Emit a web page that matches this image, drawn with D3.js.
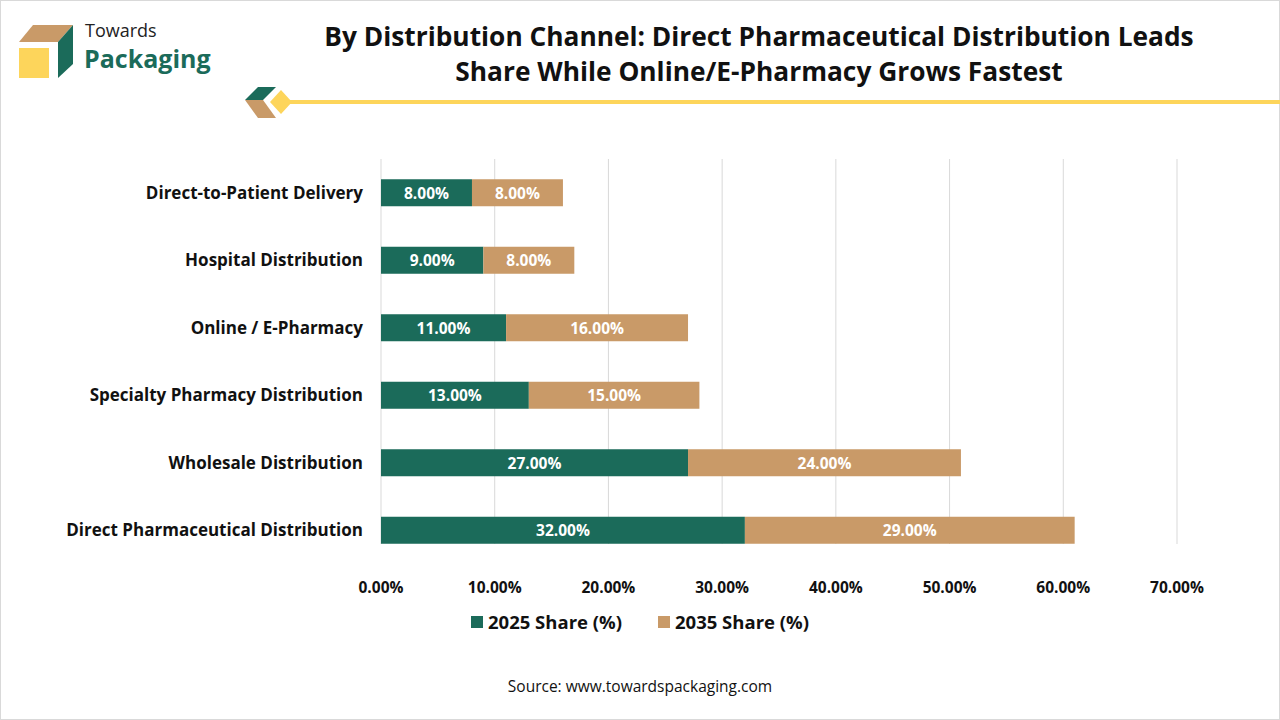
<!DOCTYPE html>
<html><head><meta charset="utf-8">
<script src="https://cdn.jsdelivr.net/npm/d3@7"></script>
<style>body{margin:0;background:#fff}svg{display:block;font-family:"Open Sans",sans-serif}</style>
</head><body><svg id="c" width="1280" height="720"></svg>
<script>
const categories = ["Direct-to-Patient Delivery","Hospital Distribution","Online / E-Pharmacy","Specialty Pharmacy Distribution","Wholesale Distribution","Direct Pharmaceutical Distribution"];
const share2025 = [8,9,11,13,27,32];
const share2035 = [8,8,16,15,24,29];
const seriesNames = ["2025 Share (%)","2035 Share (%)"];
const xTicks = [0,10,20,30,40,50,60,70];
const colors = ["#1b6b5a","#c99a68"];

const svg = d3.select("#c");
svg.append("rect").attr("x",0.5).attr("y",0.5).attr("width",1279).attr("height",719).attr("fill","#fff").attr("stroke","#d9d9d9");

const g0 = svg.append("g");
g0.append("polygon").attr("points","19,42 33,25 73,25 58,42").attr("fill","#c99a68");
g0.append("rect").attr("x",19).attr("y",48).attr("width",30).attr("height",30).attr("fill","#fdd55b");
g0.append("polygon").attr("points","58,42 73,25 73,64 58,78").attr("fill","#1b6b5a");
g0.append("text").attr("x",85).attr("y",37).attr("font-size",18).attr("fill","#222").text("Towards");
g0.append("text").attr("x",84).attr("y",68).attr("font-size",25).attr("font-weight",700).attr("fill","#1b6b5a").text("Packaging");
g0.append("polygon").attr("points","245,100 258,87 276,87 263,100").attr("fill","#1b6b5a");
g0.append("polygon").attr("points","245,100 263,100 276,118 258,118").attr("fill","#c99a68");
g0.append("polygon").attr("points","270,102 281,90 292,102 281,114").attr("fill","#fdd55b");
g0.append("line").attr("x1",290).attr("x2",1280).attr("y1",102).attr("y2",102).attr("stroke","#fdd55b").attr("stroke-width",4);

svg.append("text").attr("x",759).attr("y",46).attr("text-anchor","middle").attr("font-size",26.3).attr("font-weight",700).attr("fill","#111").text("By Distribution Channel: Direct Pharmaceutical Distribution Leads");
svg.append("text").attr("x",759).attr("y",81).attr("text-anchor","middle").attr("font-size",26.3).attr("font-weight",700).attr("fill","#111").text("Share While Online/E-Pharmacy Grows Fastest");

const x = d3.scaleLinear().domain([0,70]).range([381,1177]);
const y = d3.scaleBand().domain(categories).range([159,564]).paddingInner(0.6).paddingOuter(0.3);

const grid = svg.append("g");
xTicks.forEach(t=>{
  grid.append("line").attr("x1",x(t)).attr("x2",x(t)).attr("y1",159).attr("y2",544).attr("stroke","#d9d9d9");
  svg.append("text").attr("x",x(t)).attr("y",593).attr("text-anchor","middle").attr("font-size",15.5).attr("font-weight",700).attr("fill","#111").text(t.toFixed(2)+"%");
});

categories.forEach((c,i)=>{
  const by = y(c), bh = y.bandwidth();
  const segs = [[0,share2025[i]],[share2025[i],share2025[i]+share2035[i]]];
  const vals = [share2025[i],share2035[i]];
  segs.forEach((s,k)=>{
    svg.append("rect").attr("x",x(s[0])).attr("y",by).attr("width",x(s[1])-x(s[0])).attr("height",bh).attr("fill",colors[k]);
    svg.append("text").attr("x",(x(s[0])+x(s[1]))/2).attr("y",by+bh/2+6).attr("text-anchor","middle").attr("font-size",15.5).attr("font-weight",700).attr("fill","#fff").text(vals[k].toFixed(2)+"%");
  });
  svg.append("text").attr("x",363).attr("y",by+bh/2+6).attr("text-anchor","end").attr("font-size",17).attr("font-weight",700).attr("fill","#111").text(c);
});

const lx=[471,658];
seriesNames.forEach((n,k)=>{
  svg.append("rect").attr("x",lx[k]).attr("y",616).attr("width",12).attr("height",12).attr("fill",colors[k]);
  svg.append("text").attr("x",lx[k]+17).attr("y",629).attr("font-size",18.5).attr("font-weight",700).attr("fill","#111").text(n);
});
svg.append("text").attr("x",640).attr("y",692).attr("text-anchor","middle").attr("font-size",15.5).attr("fill","#111").text("Source: www.towardspackaging.com");
</script></body></html>
